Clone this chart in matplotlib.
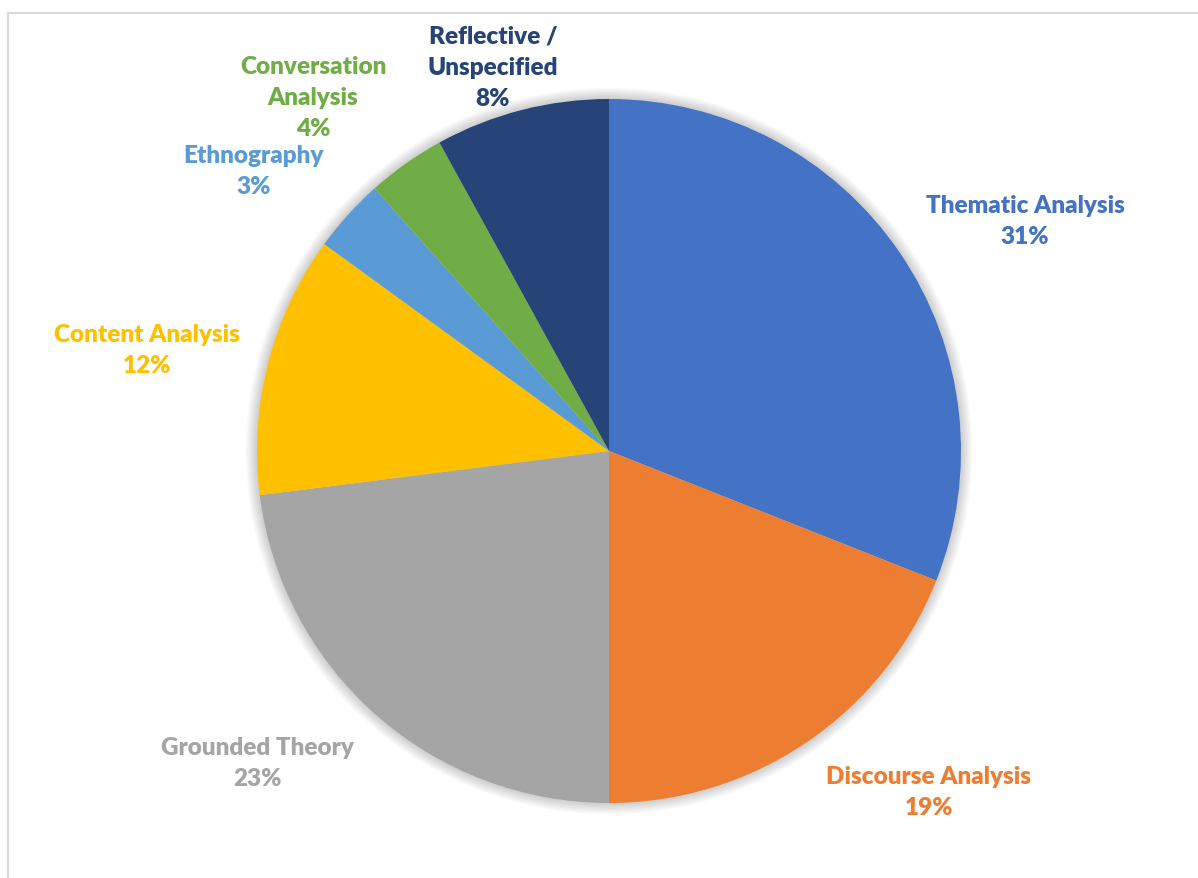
import matplotlib.pyplot as plt
from matplotlib.lines import Line2D
from matplotlib.patches import Circle

# data (shares in %)
methods = ['Thematic Analysis', 'Discourse Analysis', 'Grounded Theory',
           'Content Analysis', 'Ethnography', 'Conversation\nAnalysis',
           'Reflective /\nUnspecified']
shares = [31.0, 19.0, 23.0, 12.0, 3.4, 3.6, 8.0]
colors = ['#4472C4', '#ED7D31', '#A5A5A5', '#FFC000', '#5B9BD5', '#70AD47', '#264478']

# label block centres (data units, pie radius = 1)
label_pos = [(1.182, 0.656), (0.909, -0.966), (-1.0, -0.884), (-1.313, 0.287),
             (-1.009, 0.798), (-0.841, 1.006), (-0.330, 1.091)]

W, H = 1198, 879
cx, cy, r = 609, 452, 352

fig = plt.figure(figsize=(W / 100, H / 100), dpi=100)
ax = fig.add_axes([0, 0, 1, 1])

# soft shadow around the pie
for i in range(8):
    ax.add_patch(Circle((0, 0), 1.0 + 0.004 * (i + 1), color='black',
                        alpha=0.025, lw=0, zorder=0))

ax.pie(shares, colors=colors, startangle=90, counterclock=False,
       radius=1.0, center=(0, 0), frame=True,
       wedgeprops=dict(linewidth=0, zorder=1))
ax.set_xlim(-cx / r, (W - cx) / r)
ax.set_ylim(-(H - cy) / r, cy / r)
ax.axis('off')

for name, v, c, (x, y) in zip(methods, shares, colors, label_pos):
    ax.text(x, y, f'{name}\n{v:.0f}%', color=c, ha='center', va='center',
            fontsize=17.5, fontweight='heavy', family='Lato', linespacing=1.5)

# light chart-area border (top and left edges visible)
fig.add_artist(Line2D([8 / W, 8 / W], [0, 1 - 14 / H], color='#d9d9d9', lw=1.6))
fig.add_artist(Line2D([8 / W, 1], [1 - 14 / H, 1 - 14 / H], color='#d9d9d9', lw=1.6))

fig.savefig('out.png', dpi=100)
